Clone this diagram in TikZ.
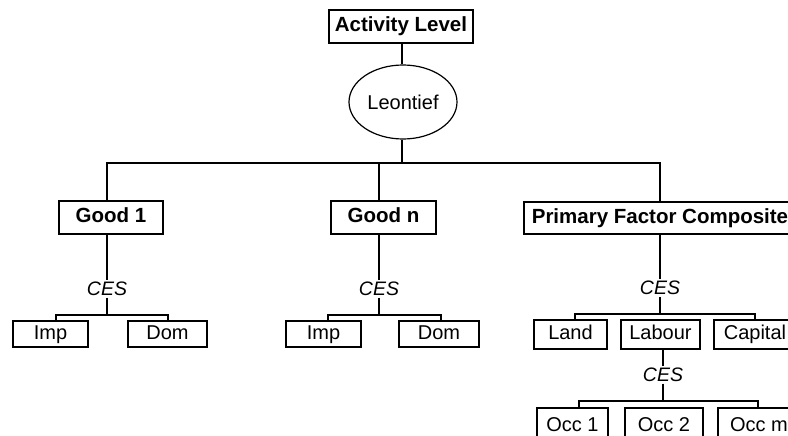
\documentclass[tikz,border=0pt]{standalone}
\usepackage{fontspec}
\setmainfont{Liberation Sans}
\usetikzlibrary{shapes.geometric}
\begin{document}
\begin{tikzpicture}[x=1pt,y=-1pt,line width=1.2pt,
  box/.style={draw,rectangle,inner sep=0pt,text height=14pt,text depth=4pt,font=\fontsize{20}{20}\selectfont},
  bbox/.style={box,font=\fontsize{20.5}{20.5}\selectfont\bfseries},
  ces/.style={inner sep=1pt,font=\fontsize{19.5}{19.5}\selectfont\itshape},
  wire/.style={line width=1.2pt}]
\useasboundingbox (0,0) rectangle (788,436);
\clip (0,0) rectangle (788,436);
% top
\node[bbox,minimum width=144pt,minimum height=33pt] (act) at (401,26.5) {Activity Level};
\node[draw,ellipse,minimum width=108pt,minimum height=74pt,inner sep=0pt,font=\fontsize{20}{20}\selectfont] (leon) at (403,102) {Leontief};
\coordinate (top) at (402,163);
\coordinate (tl) at (107,163);
\coordinate (tm) at (379,163);
\coordinate (tr) at (660,163);
% second level
\node[bbox,minimum width=104pt,minimum height=33pt] (g1) at (111,217.5) {Good 1};
\node[bbox,minimum width=105pt,minimum height=33pt] (gn) at (383.5,217.5) {Good n};
\node[bbox,minimum width=272pt,minimum height=32pt] (pfc) at (660,218) {Primary Factor Composite};
% CES
\node[ces] (c1) at (107,289) {CES};
\node[ces] (c2) at (379,289) {CES};
\node[ces] (c3) at (660,288) {CES};
% third level
\coordinate (b1l) at (56,315); \coordinate (b1r) at (168,315);
\coordinate (b2l) at (328,315); \coordinate (b2r) at (441,315);
\coordinate (b3l) at (575,314); \coordinate (b3r) at (755,314);
\node[box,minimum width=75pt,minimum height=26pt] (imp1) at (50.5,334) {Imp};
\node[box,minimum width=79pt,minimum height=26pt] (dom1) at (167.5,334) {Dom};
\node[box,minimum width=75pt,minimum height=26pt] (impn) at (323.5,334) {Imp};
\node[box,minimum width=80pt,minimum height=26pt] (domn) at (439,334) {Dom};
\node[box,minimum width=73pt,minimum height=29pt] (land) at (570.5,334.5) {Land};
\node[box,minimum width=79pt,minimum height=29pt] (lab) at (660.5,334.5) {Labour};
\node[box,minimum width=82pt,minimum height=29pt] (cap) at (755,334.5) {Capital};
% fourth level
\node[ces] (c4) at (663,375) {CES};
\coordinate (b4l) at (579,401); \coordinate (b4r) at (758,401);
\node[box,minimum width=71pt,minimum height=37pt] (o1) at (572.5,426.5) {Occ 1};
\node[box,minimum width=78pt,minimum height=37pt] (o2) at (664,426.5) {Occ 2};
\node[box,minimum width=82pt,minimum height=37pt] (om) at (759,426.5) {Occ m};
% connectors
\draw[wire] (act.south -| top) -- (leon.north -| top);
\draw[wire] (leon.south -| top) -- (top);
\draw[wire] (tl |- g1.north) -- (tl) -- (tr) -- (tr |- pfc.north);
\draw[wire] (tm) -- (tm |- gn.north);
\draw[wire] (g1.south -| tl) -- (c1.north);
\draw[wire] (gn.south -| tm) -- (c2.north);
\draw[wire] (pfc.south -| tr) -- (c3.north);
\draw[wire] (c1.south) -- (c1.south |- b1l);
\draw[wire] (b1l |- imp1.north) -- (b1l) -- (b1r) -- (b1r |- dom1.north);
\draw[wire] (c2.south) -- (c2.south |- b2l);
\draw[wire] (b2l |- impn.north) -- (b2l) -- (b2r) -- (b2r |- domn.north);
\draw[wire] (c3.south) -- (c3.south |- b3l);
\draw[wire] (b3l |- land.north) -- (b3l) -- (b3r) -- (b3r |- cap.north);
\draw[wire] (lab.south -| c4) -- (c4.north);
\draw[wire] (c4.south) -- (c4.south |- b4l);
\draw[wire] (b4l |- o1.north) -- (b4l) -- (b4r) -- (b4r |- om.north);
\end{tikzpicture}
\end{document}
